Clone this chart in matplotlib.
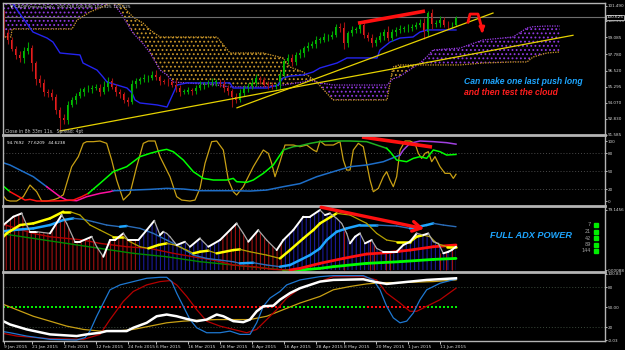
import numpy as np
import matplotlib
matplotlib.use("Agg")
import matplotlib.pyplot as plt
from matplotlib.collections import LineCollection
from matplotlib.patches import Rectangle

plt.rcParams['hatch.linewidth'] = 0.8
plt.rcParams['font.family'] = ['DejaVu Sans']

# ---------------- price bars (CADJPY daily), index = bar number
first_open = 101.0
closes = [99.4, 98.9, 98.2, 97.75, 97.5, 98.0, 98.3, 97.1, 95.9, 95.6,
          94.9, 94.8, 94.5, 93.5, 92.86, 92.73, 93.9, 94.27, 94.6, 94.91,
          95.1, 95.12, 95.2, 95.2, 94.91, 95.25, 95.75, 95.3, 94.85, 94.7,
          94.3, 94.14, 95.5, 95.7, 95.85, 95.94, 95.98, 96.2, 96.0, 95.7,
          95.68, 95.62, 95.45, 95.2, 94.91, 94.91, 95.0, 94.95, 95.2, 95.42,
          95.48, 95.56, 95.65, 95.68, 95.5, 95.2, 94.95, 94.5, 94.3, 94.8,
          95.2, 95.35, 95.56, 95.95, 95.8, 95.45, 95.42, 95.29, 95.4, 96.2,
          97.25, 97.5, 97.15, 97.73, 97.9, 98.25, 98.45, 98.6, 98.88, 98.9,
          99.1, 99.13, 99.3, 99.9, 99.77, 98.62, 99.39, 99.65, 99.7, 100.03,
          99.3, 99.01, 98.62, 98.9, 99.2, 99.52, 99.01, 99.52, 99.65, 99.7,
          99.77, 99.77, 99.9, 100.05, 100.16, 99.52, 100.93, 100.1, 100.2, 100.41,
          100.05, 100.0, 100.05, 100.62]
up_wick = [0.2, 0.3, 0.2, 0.2, 0.3, 0.35, 0.4, 0.2, 0.2, 0.3,
           0.3, 0.2, 0.3, 0.2, 0.2, 0.3, 0.3, 0.25, 0.2, 0.3,
           0.2, 0.3, 0.25, 0.3, 0.3, 0.5, 0.3, 0.2, 0.2, 0.3,
           0.2, 0.2, 0.3, 0.25, 0.2, 0.3, 0.2, 0.3, 0.4, 0.2,
           0.2, 0.3, 0.2, 0.4, 0.2, 0.2, 0.3, 0.2, 0.2, 0.3,
           0.2, 0.25, 0.3, 0.2, 0.2, 0.3, 0.2, 0.2, 0.3, 0.3,
           0.2, 0.2, 0.3, 0.35, 0.2, 0.2, 0.3, 0.2, 0.2, 0.3,
           0.2, 0.3, 0.3, 0.2, 0.3, 0.2, 0.3, 0.2, 0.3, 0.2,
           0.3, 0.2, 0.3, 0.2, 0.3, 0.5, 0.2, 0.3, 0.2, 0.2,
           0.4, 0.2, 0.3, 0.2, 0.3, 0.2, 0.4, 0.2, 0.2, 0.3,
           0.2, 0.3, 0.2, 0.2, 0.3, 0.4, 0.15, 0.3, 0.2, 0.3,
           0.2, 0.3, 0.2, 0.1]
dn_wick = [0.3, 0.3, 0.2, 0.3, 0.3, 0.4, 0.2, 0.6, 0.5, 0.3,
           0.3, 0.3, 0.2, 0.3, 0.9, 0.3, 0.3, 0.2, 0.3, 0.2,
           0.3, 0.2, 0.3, 0.2, 0.3, 0.2, 0.3, 0.2, 0.3, 0.3,
           0.3, 0.3, 0.2, 0.3, 0.2, 0.2, 0.3, 0.2, 0.2, 0.3,
           0.2, 0.3, 0.2, 0.3, 0.3, 0.2, 0.2, 0.3, 0.2, 0.2,
           0.3, 0.2, 0.2, 0.3, 0.2, 0.3, 0.3, 0.8, 0.3, 0.2,
           0.2, 0.3, 0.2, 0.2, 0.3, 0.2, 0.3, 0.2, 0.2, 0.3,
           0.2, 0.2, 0.3, 0.2, 0.2, 0.3, 0.2, 0.2, 0.3, 0.2,
           0.2, 0.3, 0.2, 0.2, 0.3, 0.4, 0.3, 0.2, 0.2, 0.3,
           0.3, 0.2, 0.3, 0.2, 0.2, 0.3, 0.2, 0.2, 0.3, 0.2,
           0.2, 0.3, 0.2, 0.2, 0.2, 0.6, 0.3, 0.4, 0.2, 0.3,
           0.2, 0.3, 0.2, 0.1]

# ichimoku cloud (senkou spans, shifted 26 bars ahead) and kijun
cloud_x = [-1, 1.75, 2, 17, 18.25, 21.5, 24, 25.75, 27.25, 29, 32.25, 34.75, 36.5, 39,
           40.75, 42.25, 53.25, 56.5, 64.75, 69.75, 71.5, 74.75, 76.5, 78, 82.25, 95.75,
           97.25, 98.75, 104, 105.75, 107.25, 114, 119.75, 127.25, 130.75, 132.25, 135.75, 139]
span_a = [99.11, 99.11, 99.72, 99.72, 100.41, 101.03, 101.34, 101.57, 101.80, 101.72,
          100.64, 100.18, 99.65, 99.11, 99.11, 99.11, 99.11, 97.88, 97.88, 97.50,
          96.80, 96.42, 96.04, 95.70, 94.27, 94.27, 96.80, 96.96, 96.96, 96.96,
          96.96, 96.96, 97.11, 97.19, 97.19, 97.57, 97.88, 97.96]
span_b = [102.7, 102.7, 102.7, 102.7, 102.7, 102.6, 102.5, 102.3, 101.72, 101.03,
          99.42, 98.60, 97.90, 96.57, 96.19, 95.65, 95.42, 95.27, 95.27, 95.42,
          95.50, 95.65, 95.81, 95.65, 95.42, 95.42, 95.90, 96.04, 97.11, 97.60,
          98.11, 98.26, 98.88, 99.11, 99.80, 99.90, 99.95, 99.95]
kijun_x = [1.5, 2.75, 7.25, 10.75, 12.25, 14, 19, 19.75, 23.25, 24.75, 25.75, 28.25, 30.75,
           32, 32.75, 34, 38.25, 40.75, 43.25, 45.75, 56.5, 57.25, 65.75, 68.5, 69.75,
           71.5, 74.75, 77.25, 79, 83.25, 85.75, 93.25, 94, 96.5, 99, 102.25, 104, 105.75, 113]
kijun_y = [102.0, 101.41, 99.49, 99.03, 98.72, 97.88, 97.73, 97.11, 96.57, 96.04, 95.65,
           95.42, 95.19, 94.81, 94.27, 94.04, 93.89, 93.73, 95.42, 95.58, 95.58, 95.19,
           95.19, 95.42, 95.96, 96.11, 96.19, 96.42, 96.73, 97.11, 97.50, 97.50, 98.11,
           98.72, 99.03, 99.11, 99.49, 99.65, 99.65]

# hand drawn trend lines (bar, price)
trend_low = [(14, 91.89), (142.25, 99.24)]
trend_high = [(58.25, 93.67), (122.25, 100.95)]
red_top = [(88.5, 100.17), (105.25, 101.10)]
last_price = 100.625

price_ticks = [101.490, 100.355, 99.085, 97.780, 96.520, 95.295, 94.070, 92.830, 91.585]

# ---------------- oscillator panel (0..100)
osc_fast_x = [-1, 0.67, 1.5, 3.17, 4.83, 6.5, 8.17, 9.42, 10.67, 12.33, 13.58, 14.83, 15.67,
              16.92, 18.58, 19.83, 20.67, 22.33, 24, 25.67, 26.92, 28.17, 29.83, 31.5, 33.17,
              34.83, 36.08, 37.75, 39, 40.25, 41.5, 43.17, 44.42, 46.5, 47.75, 49, 50.25,
              51.92, 53.17, 54.83, 56.08, 57.33, 58.17, 59.83, 62.33, 64.83, 66.08, 66.92,
              67.75, 69, 70.25, 72.33, 74, 75.67, 77.33, 78.17, 79,
              80.25, 82.33, 84, 84.83, 85.67, 86.5, 87.33, 88.58, 89.83, 90.67, 91.5, 92.33,
              93.58, 94.83, 95.67, 96.5, 97.33, 98.17, 99, 100.25, 101.5, 102.75, 103.58,
              104.42, 105.25, 106.08, 106.92, 107.75, 109, 110.25, 111.5, 112.33, 113]
osc_fast_y = [15.5, 1.6, 0, 0, 7.2, 26.6, 15.5, 0, 0, 2, 4.9, 10.4, 29.4,
              57.2, 73.9, 96.1, 98.9, 98.9, 100, 96.1, 68.3, 35, 1.6, 12.7, 57.2,
              96.1, 100, 100, 73.9, 57.2, 40.5, 7.2, 1.6, 0, 1.6, 21.1, 62.7,
              98.9, 100, 85, 35, 15.5, 10, 23.9, 57.2, 85, 79.4, 62.7,
              40.5, 65.5, 93.3, 93.3, 90.5, 93.3, 85, 82.2, 100,
              93.3, 93.3, 98.9, 68.3, 51.6, 51.6, 85, 96.1, 90.5, 62.7, 35, 15.5,
              21.1, 40.5, 48.9, 35, 23.9, 40.5, 85, 100, 100, 96.1, 79.4,
              71.1, 79.4, 82.2, 65.5, 74, 57.2, 46.1, 46.1, 37.7, 44.6238]
osc_mid_x = [-1, 1.5, 5.25, 6.5, 8.17, 11.5, 14.83, 17.33, 19.42, 21.08, 24, 27.33, 30.67,
             34, 36.5, 39, 40.67, 42.33, 44.83, 47.33, 49.83, 52.33, 55.67, 57.33, 58.17,
             60.67, 62.33, 64.83, 67.33, 69.83, 72.33, 74, 76.5, 79, 82.33, 86.5, 90.67,
             93.17, 95.67, 96.5, 98.17, 100.67, 102.33, 104, 105.67, 107.33, 109, 110.67, 113]
osc_mid_y = [29.4, 15.5, 1.6, 2.7, 0, 0, 0.5, 1.6, 7.2, 12.7, 29.4, 48.9, 57.2,
             73.9, 79.4, 83.9, 86.1, 82.2, 68.3, 48.9, 37.7, 35, 35, 37.7, 32.2,
             31.1, 35, 46.1, 60, 85, 90.5, 92, 96, 99, 100, 100, 98.9,
             93.3, 87.8, 82.2, 68.3, 65.5, 71.1, 73.9, 71.1, 85, 82.2, 76.6, 77.6209]
osc_mid_breaks = [1.5, 21.08, 69.83, 95.67]
osc_mid_colors = ['#00ff00', '#ff1010', '#00ff00', '#20b020', '#00ff00']
osc_slow_x = [-1, 1.5, 4, 7.33, 10.67, 14, 15.67, 18.17, 20.67, 24, 26.5, 27.33, 32.33,
              36.5, 40.67, 44.83, 49, 57.33, 61.5, 65.67, 69.83, 74, 78.17, 82.33, 86.5,
              90.67, 94.83, 99, 99.83, 101.5, 104, 107.33, 110.67, 113]
osc_slow_y = [65.5, 60, 51.6, 40.5, 23.9, 7.2, 1.6, 0.5, 7.2, 12.7, 15.5, 17.2, 18.3,
              19.4, 21.1, 20, 17.2, 17.2, 16.6, 18.3, 23.9, 29, 40.5, 48.9, 57.2,
              60, 65.5, 76.6, 85, 96.1, 100, 98.9, 97.2, 94.7692]
osc_slow_breaks = [10.67, 27.33, 99]
osc_slow_colors = ['#1e6ec8', '#ff10a0', '#1e6ec8', '#a040e0']
red_osc = [(89.5, 106.7), (107, 90)]
osc_ticks = [100, 80, 50, 20, 0]

# ---------------- ADX panel (periods 7, 21, 42, 89, 144)
adx7_x = [-1, -0.17, 2.33, 4.42, 5.67, 6.5, 8.17, 11.5, 14.42, 15.67, 17.75, 19, 21.92,
          23.17, 24.83, 26.5, 27.75, 29.83, 31.08, 33.58, 35.67, 37.58, 39, 39.83, 40.67,
          41.5, 43.17, 45.25, 46.5, 49, 51.08, 54, 58.17, 59.83, 61.08, 63.58, 65.67,
          68.17, 69.83, 72.33, 74.83, 76.5, 79, 80.25, 81.5, 83.17, 84.42, 85.67, 86.5,
          87.75, 89, 90.25, 91.92, 93.17, 94.83, 98.17, 99.83, 101.5, 103.17, 104.83,
          106.08, 107.33, 108.58, 109.83, 111.08, 111.92, 113]
adx7_y = [57.1, 59.3, 70.3, 74.7, 59.3, 50.5, 50.5, 48.3, 72.5, 61.5, 37.3, 37.3, 43.9,
          30.7, 17.5, 39.5, 39.5, 48.3, 39.5, 39.5, 52.7, 65, 46.1, 50.5, 48.3,
          43.9, 32.9, 37.3, 30.7, 41.7, 30.7, 39.5, 61.5, 48.3, 37.3, 52.7, 39.5,
          26.3, 39.5, 52.7, 70.3, 70.3, 79.1, 72.5, 74.7, 68.1, 61.5, 48.3, 35.1,
          43.9, 48.3, 35.1, 39.5, 28.5, 24.1, 24.1, 33, 37.3, 48.3, 46.1,
          48.3, 37.3, 35.1, 22, 24.1, 26.3, 30.7]
adx21_x = [-1, 0.67, 4, 7.33, 11.5, 14.83, 16.5, 19, 21.5, 24, 27.33, 29.83, 31.5, 34,
           36.08, 38.58, 40.67, 42.75, 45.67, 47.33, 49, 51.08, 53.17, 57.33, 59, 61.5,
           65.67, 69, 71.5, 74.83, 77.33, 79, 83.17, 86.5, 90.67, 93.17, 95.67, 98.17,
           101.5, 103.17, 104.83, 106.5, 108.17, 110.67, 113]
adx21_y = [39.5, 48.3, 59.3, 61.5, 68.1, 76.9, 76.9, 72.5, 59.3, 52.7, 43.9, 43.9, 37.3,
           30.7, 28.5, 33, 35.1, 33, 26.3, 22, 24.1, 25.5, 22, 26.3, 27.2, 24.1,
           19.7, 15.3, 26.3, 41.7, 52.7, 61.5, 74.7, 72.5, 61.5, 48.3, 39.5, 37.3,
           37.3, 43.9, 46.1, 43.9, 35.1, 30.7, 30.7]
adx42_x = [-1, 2.33, 7.33, 11.5, 14.83, 17.33, 19.83, 22.33, 25.67, 29, 30.67, 34, 37.33,
           40.67, 44, 47.33, 50.67, 54, 57.33, 59, 62.33, 65.67, 69, 71.5, 74, 76.5, 79,
           80.67, 83.17, 85.67, 89, 93.17, 98.17, 101.5, 105.67, 107.33, 109.83, 113]
adx42_y = [50.5, 52.7, 54.9, 59.3, 65.9, 68.1, 66.8, 63.7, 59.3, 57.1, 58, 54.9, 48.3,
           39.5, 30.7, 19.7, 15.3, 13.1, 10.9, 8.8, 9.6, 6.6, 4.4, 6.6, 13.1, 19.7, 28.5,
           39.5, 50.5, 54.9, 59.3, 59.3, 58, 54.9, 59.3, 61.5, 59.3, 57.1]
adx89_x = [-1, 3.17, 7.33, 11.5, 15.67, 19.83, 24, 30.67, 36.5, 42.33, 47.33, 52.33, 57.33,
           62.33, 67.33, 71.5, 74, 79, 84.83, 90.67, 95.67, 101.5, 107.33, 113]
adx89_y = [61.5, 54.9, 48.3, 43.9, 41.7, 39.5, 35.1, 30.7, 28.5, 22, 17.5, 13.1, 6.6,
           4.4, 0.8, 0, 2.2, 8.8, 15.3, 21.1, 22.8, 26.3, 30.7, 33]
adx144_x = [-1, 7.33, 15.67, 24, 32.33, 40.67, 49, 57.33, 65.67, 69.83, 74, 79, 82.33,
            90.67, 99, 107.33, 113]
adx144_y = [48.3, 41.7, 35.1, 28.5, 22, 17.5, 11, 6.6, 2.2, 0, 0, 2.2, 4.4,
            8.8, 11, 14, 15.3]
bear_zones = [(-1, 33.58), (54, 69.83)]
bear_spike_x = [85, 91.5, 92.5, 95.5, 96.5, 109, 110.5, 112]
bear_spike_h = [52, 38, 33, 24, 24, 22, 24, 26]
red_adx = [(78.6, 83.5), (105.7, 53.7)]
adx_periods = ['7', '21', '42', '89', '144']

# ---------------- bottom oscillator panel
bot_blue_x = [-1, 1.5, 5.67, 11.5, 18.17, 20.25, 21.5, 23.17, 24.83, 26.5, 29, 32.33, 35.67,
              39, 40.67, 41.92, 43.17, 44.83, 46.5, 48.17, 50.67, 54, 56.5, 59, 61.5, 63.17,
              64.83, 66.5, 69, 70.67, 74, 79, 82.33, 89.83, 92.33, 94, 95.67, 97.33, 99,
              100.67, 102.33, 104, 105.67, 109, 111.5, 113]
bot_blue_y = [14, 11.5, 6.5, 1.5, 0.5, 4, 14, 36.4, 56.4, 76.4, 83.8, 88.8, 93.8,
              95.3, 95.3, 88.8, 71.4, 51.4, 31.4, 19, 11.5, 11.5, 14, 9, 9, 26.5,
              51.4, 63.9, 73.9, 83.8, 91.3, 96.3, 97.8, 97.8, 91.3, 76.4, 51.4, 34, 26.5,
              29, 41.4, 61.4, 76.4, 86.3, 90.3, 92.3]
bot_red_x = [-1, 3.17, 11.5, 19.83, 24, 26.5, 29.83, 32.33, 35.67, 39, 41.5, 43.17, 45.67,
             48.17, 50.67, 54, 57.33, 60.67, 63.17, 65.67, 68.17, 70.67, 74, 79, 82.33,
             89.83, 93.17, 95.67, 99, 101.5, 103.17, 105.67, 109, 113]
bot_red_y = [11.5, 6.5, 2.5, 1.5, 9, 31.4, 58.9, 73.9, 83.8, 88.8, 90.3, 83.8, 66.4,
             46.4, 29, 21.5, 16.5, 11.5, 16.5, 31.4, 46.4, 63.9, 78.8, 88.8, 96.3,
             96.3, 91.3, 71.4, 56.4, 43.9, 43.9, 51.4, 61.4, 78.8]
bot_white_x = [-1, 1.5, 5.67, 11.5, 18.17, 20.67, 24, 25.67, 30.67, 32.33, 35.67, 38.17,
               40.67, 43.17, 45.67, 48.17, 50.67, 53.17, 54.83, 57.33, 59.83, 61.5, 63.17,
               64.83, 67.33, 69, 71.5, 74, 76.5, 79, 82.33, 89.83, 92.33, 95.67, 99,
               105.67, 113]
bot_white_y = [31.4, 24, 16.5, 9, 6.5, 9, 11.5, 14, 14, 19, 26.5, 36.4,
               39, 36.4, 32.4, 29, 31.4, 39, 36.4, 29, 27.5, 31.4, 43.9,
               51.4, 52.4, 61.4, 71.4, 78.8, 83.8, 88.8, 91.3, 92.3, 88.8, 85.3, 87.3,
               91.3, 93.8]
bot_gold_x = [-1, 3.17, 7.33, 11.5, 15.67, 19.83, 24, 28.17, 32.33, 36.5, 40.67, 44.83, 49,
              53.17, 57.33, 61.5, 65.67, 69.83, 74, 79, 82.33, 86.5, 90.67, 94.83, 99,
              107.33, 113]
bot_gold_y = [56.4, 46.4, 36.4, 29, 21.5, 16.5, 14, 14, 16.5, 21.5, 26.5, 29, 30.5,
              31.4, 31.4, 31.4, 36.4, 46.4, 56.4, 66.4, 76.4, 81.4, 85.3, 87.3, 87.3,
              88.8, 91.3]
signal_breaks = [25, 70, 91, 106]
bot_ticks = [100.83, 80, 50, 20, -0.03]
bot_tick_labels = ['100.83', '80', '50.00', '20', '-0.03']

date_pos = [0, 7, 15, 23, 31, 38, 46, 54, 62, 70, 78, 85, 93, 101, 109]
date_labels = ['9 Jan 2015', '21 Jan 2015', '2 Feb 2015', '12 Feb 2015', '24 Feb 2015',
               '6 Mar 2015', '16 Mar 2015', '26 Mar 2015', '6 Apr 2015', '16 Apr 2015',
               '28 Apr 2015', '8 May 2015', '20 May 2015', '1 Jun 2015', '11 Jun 2015']

# ---------------- figure
W, H = 625, 350
GRAY = '#b4b4b4'
TXT = '#d8d8d8'
SMALL = 3.0
fig = plt.figure(figsize=(W / 100, H / 100), dpi=100, facecolor='black')


def panel(top, bottom):
    ax = fig.add_axes([3 / W, 1 - bottom / H, 602 / W, (bottom - top) / H])
    ax.set_facecolor('black')
    for s in ax.spines.values():
        s.set_color(GRAY)
        s.set_linewidth(1)
    ax.spines['top'].set_linewidth(2)
    ax.spines['bottom'].set_visible(False)
    ax.set_xlim(-0.25, 150.25)
    ax.set_xticks([])
    ax.yaxis.tick_right()
    ax.tick_params(axis='y', colors=TXT, labelsize=SMALL, length=1.5, width=0.6, pad=0.6)
    return ax


ax1 = panel(3, 135)
ax2 = panel(135, 206)
ax3 = panel(206, 272)
ax4 = panel(272, 341)
ax1.spines['top'].set_linewidth(1)
ax4.spines['bottom'].set_visible(True)


def trend_colored(ax, xs, ys, up_c, dn_c, up_w, dn_w):
    xs, ys = np.asarray(xs, float), np.asarray(ys, float)
    pts = np.column_stack([xs, ys])
    segs = np.stack([pts[:-1], pts[1:]], axis=1)
    rising = np.diff(ys) >= 0
    ax.add_collection(LineCollection(segs, colors=[up_c if r else dn_c for r in rising],
                                     linewidths=[up_w if r else dn_w for r in rising],
                                     capstyle='round', joinstyle='round'))


def piecewise(ax, xs, ys, breaks, colors, lw):
    xs, ys = np.asarray(xs, float), np.asarray(ys, float)
    edges = [xs[0]] + breaks + [xs[-1]]
    for a, b, c in zip(edges[:-1], edges[1:], colors):
        m = (xs >= a) & (xs <= b)
        ax.plot(xs[m], ys[m], color=c, lw=lw)


# ---- main price panel
ax1.set_ylim(91.58, 101.72)
ca, cb, cx = np.array(span_a), np.array(span_b), np.array(cloud_x)
ax1.fill_between(cx, ca, cb, where=ca >= cb, interpolate=True, facecolor='none',
                 edgecolor='#c8962a', hatch='....', lw=0)
ax1.fill_between(cx, ca, cb, where=ca < cb, interpolate=True, facecolor='none',
                 edgecolor='#9038e0', hatch='....', lw=0)
ax1.plot(cx, ca, color='#d29b2a', lw=0.9, ls=(0, (1, 1)))
ax1.plot(cx, cb, color='#9a3ce6', lw=0.9, ls=(0, (1, 1)))
ax1.axhline(last_price, color='#6e6e6e', lw=0.8)
ax1.plot(kijun_x, kijun_y, color='#2424f0', lw=1)

c = np.array(closes)
o = np.array([first_open] + closes[:-1])
x = np.arange(len(c))
hi = np.maximum(o, c) + np.array(up_wick)
lo = np.minimum(o, c) - np.array(dn_wick)
bull = c >= o
ax1.vlines(x, lo, hi, colors=np.where(bull, '#00a000', '#a01010'), lw=0.8)
ax1.bar(x, np.maximum(np.abs(c - o), 0.04), bottom=np.minimum(o, c), width=0.7,
        color=np.where(bull, '#00c000', '#e82020'), lw=0)

for pts in (trend_low, trend_high):
    ax1.plot([p[0] for p in pts], [p[1] for p in pts], color='#e6d200', lw=0.9)
ax1.plot([p[0] for p in red_top], [p[1] for p in red_top], color='#ff1010', lw=2.6,
         solid_capstyle='butt')
ax1.plot([116, 116.5, 118.5, 119.5], [100.25, 100.87, 100.87, 99.75], color='#ff1010',
         lw=2, solid_joinstyle='round')
ax1.annotate('', xy=(119.6, 99.2), xytext=(119.5, 99.8),
             arrowprops=dict(arrowstyle='-|>', color='#ff1010', lw=2, mutation_scale=7))

ax1.set_yticks(price_ticks, ['%.3f' % t for t in price_ticks])
ax1.annotate('%.3f' % last_price, xy=(1, last_price), xycoords=('axes fraction', 'data'),
             xytext=(1.2, 0), textcoords='offset points', va='center', ha='left',
             fontsize=SMALL, color='white',
             bbox=dict(boxstyle='square,pad=0.15', fc='black', ec='#c8c8c8', lw=0.6))
ax1.text(0.012, 0.988, '\u25bc CADJPYmicro,Daily  100.328 100.696 100.325 100.625',
         transform=ax1.transAxes, fontsize=3.1, color=TXT, va='top')
ax1.text(0.004, 0.006, 'Close in 8h 33m 11s.  Spread: 4pt', transform=ax1.transAxes,
         fontsize=3.3, color='#c8c8c8', va='bottom')
ax1.text(115, 95.68, 'Can make one last push long', fontsize=6.2, color='#1ea6ff',
         fontweight='bold', style='italic', family='Liberation Sans', va='center')
ax1.text(115, 94.83, 'and then test the cloud', fontsize=6.2, color='#ff1e1e',
         fontweight='bold', style='italic', family='Liberation Sans', va='center')

# ---- oscillator panel
ax2.set_ylim(-8.3, 110)
for lv in (80, 50, 20):
    ax2.axhline(lv, color='#4a4a4a', lw=0.7, ls=(0, (1, 2)))
ax2.plot(osc_fast_x, osc_fast_y, color='#c8a014', lw=0.9)
piecewise(ax2, osc_slow_x, osc_slow_y, osc_slow_breaks, osc_slow_colors, 1.1)
piecewise(ax2, osc_mid_x, osc_mid_y, osc_mid_breaks, osc_mid_colors, 1.1)
ax2.plot([p[0] for p in red_osc], [p[1] for p in red_osc], color='#ff1010', lw=2.6,
         solid_capstyle='butt')
ax2.set_yticks(osc_ticks, [str(t) for t in osc_ticks])
ax2.text(0.007, 0.92, '%.4f   %.4f   %.4f' % (osc_slow_y[-1], osc_mid_y[-1], osc_fast_y[-1]),
         transform=ax2.transAxes, fontsize=3.0, color='white', va='top')

# ---- ADX panel
ax3.set_ylim(-2.6, 84.4)
wx, wy = np.array(adx7_x), np.array(adx7_y)
bear = np.zeros(len(wx), bool)
for a, b in bear_zones:
    bear |= (wx >= a) & (wx <= b)
edge = np.r_[False, bear[:-1] != bear[1:]] | np.r_[bear[:-1] != bear[1:], False]
ax3.fill_between(wx, 0, wy, where=bear, facecolor='none', edgecolor='#a01010',
                 hatch='||||', lw=0)
ax3.fill_between(wx, 0, wy, where=~bear | edge, facecolor='none', edgecolor='#1a1a98',
                 hatch='||||', lw=0)
ax3.vlines(bear_spike_x, 0, bear_spike_h, colors='#a01010', lw=0.8)
trend_colored(ax3, adx144_x, adx144_y, '#00ff00', '#008a00', 2.0, 1.0)
trend_colored(ax3, adx89_x, adx89_y, '#ff1010', '#b00000', 2.0, 1.0)
trend_colored(ax3, adx42_x, adx42_y, '#1ea6ff', '#2a6cb8', 1.8, 1.0)
trend_colored(ax3, adx21_x, adx21_y, '#ffff00', '#b4a000', 1.8, 0.9)
trend_colored(ax3, adx7_x, adx7_y, '#ffffff', '#a8a8a8', 1.4, 0.9)
ax3.annotate('', xy=red_adx[1], xytext=red_adx[0],
             arrowprops=dict(arrowstyle='->,head_length=0.6,head_width=0.35',
                             color='#ff1010', lw=2.4))
ax3.set_yticks([79.1456, 0], ['79.1456', '0.00088'])
fig.text(490 / W, 1 - 236 / H, 'FULL ADX POWER', fontsize=6.6, color='#1ea6ff',
         fontweight='bold', style='italic', family='Liberation Sans', va='center')
for k, lab in enumerate(adx_periods):
    yy = 225 + 6.5 * k
    fig.text(591 / W, 1 - yy / H, lab, fontsize=3.6, color='#a0a0a0', ha='right',
             va='center')
    fig.add_artist(Rectangle((594 / W, 1 - (yy + 2) / H), 4 / W, 4 / H,
                             transform=fig.transFigure, color='#00ee00'))

# ---- bottom panel
ax4.set_ylim(-1, 103.3)
for lv in (80, 20):
    ax4.axhline(lv, color='#3c4a3c', lw=0.7, ls=(0, (1, 2)))
ax4.plot(bot_gold_x, bot_gold_y, color='#c8a014', lw=0.9)
ax4.plot(bot_red_x, bot_red_y, color='#b40000', lw=0.9)
ax4.plot(bot_blue_x, bot_blue_y, color='#1e78d2', lw=0.9)
ax4.plot(bot_white_x, bot_white_y, color='white', lw=1.8)
bars = np.arange(len(closes))
sig_col = np.where(np.searchsorted(signal_breaks, bars, side='right') % 2 == 0,
                   '#00ee00', '#ff1010')
ax4.scatter(bars, np.full(len(bars), 50.0), c=sig_col, marker='s', s=2.2, lw=0)
ax4.set_yticks(bot_ticks, bot_tick_labels)
ax4.set_xticks(date_pos, date_labels)
ax4.tick_params(axis='x', colors=TXT, labelsize=3.2, length=2, width=0.6, pad=0.8)
for lab in ax4.get_xticklabels():
    lab.set_ha('left')

fig.savefig('out.png', dpi=100, facecolor='black')
